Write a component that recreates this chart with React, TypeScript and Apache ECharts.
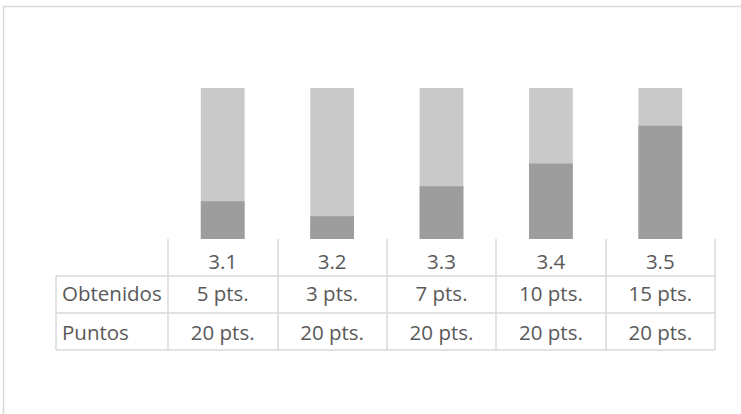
import React, { useEffect, useRef } from "react";
import * as echarts from "echarts";

// Categories and scores per section
const categories = ["3.1", "3.2", "3.3", "3.4", "3.5"];
const obtenidos = [5, 3, 7, 10, 15];
const puntos = [20, 20, 20, 20, 20];
const rowNames = ["Obtenidos", "Puntos"];

const FONT = "'Open Sans', sans-serif";
const FONT_SIZE = 20.5;
const TEXT = "#595959";
const BORDER = "#d9d9d9";

// Plot area and data-table geometry
const GRID = { left: 168, right: 26, top: 88, bottom: 175 };
const W = 741;
const H = 414;
const ROW_H = 37;
const TABLE_LEFT = 56;

const fmt = (v: number) => `${v} pts.`;

export default function App() {
  const ref = useRef<HTMLDivElement>(null);

  useEffect(() => {
    if (!ref.current) return;
    const chart = echarts.init(ref.current, undefined, { renderer: "svg" });

    const axisBase = H - GRID.bottom; // y of the category axis
    const gridRight = W - GRID.right;
    const rowTops = [axisBase + ROW_H, axisBase + 2 * ROW_H, axisBase + 3 * ROW_H];

    const labelStyle = {
      fontFamily: FONT,
      fontSize: FONT_SIZE,
      color: TEXT,
      verticalAlign: "middle" as const,
    };

    const tableAxis = (data: string[], offset: number) => ({
      type: "category" as const,
      data,
      position: "bottom" as const,
      offset,
      axisLine: { show: false },
      axisTick: { show: false },
      axisLabel: { ...labelStyle, margin: 21, interval: 0 },
      splitLine: { show: false },
    });

    chart.setOption({
      animation: false,
      grid: GRID,
      xAxis: [
        {
          type: "category",
          data: categories,
          position: "bottom",
          axisLine: { show: false },
          axisTick: {
            show: true,
            length: ROW_H * 3,
            lineStyle: { color: BORDER, width: 1.5 },
          },
          axisLabel: { ...labelStyle, margin: 22, interval: 0 },
          splitLine: { show: false },
        },
        tableAxis(obtenidos.map(fmt), 33),
        tableAxis(puntos.map(fmt), 71.5),
      ],
      yAxis: {
        type: "value",
        min: 0,
        max: 20,
        show: false,
        splitLine: { show: false },
      },
      series: [
        {
          name: "Puntos",
          type: "bar",
          data: puntos,
          barWidth: "40%",
          barGap: "-100%",
          itemStyle: { color: "#c9c9c9" },
          silent: true,
        },
        {
          name: "Obtenidos",
          type: "bar",
          data: obtenidos,
          barWidth: "40%",
          barGap: "-100%",
          itemStyle: { color: "#9d9d9d" },
          silent: true,
        },
      ],
      graphic: [
        // chart area frame
        {
          type: "rect",
          shape: { x: 3.5, y: 6.5, width: 900, height: 600 },
          style: { fill: "none", stroke: BORDER, lineWidth: 1.5 },
          silent: true,
        },
        // table horizontal rules
        ...rowTops.map((y) => ({
          type: "line",
          shape: { x1: TABLE_LEFT, y1: y, x2: gridRight, y2: y },
          style: { stroke: BORDER, lineWidth: 1.5 },
          silent: true,
        })),
        // table left edge
        {
          type: "line",
          shape: { x1: TABLE_LEFT, y1: rowTops[0], x2: TABLE_LEFT, y2: rowTops[2] },
          style: { stroke: BORDER, lineWidth: 1.5 },
          silent: true,
        },
        // row headers
        ...rowNames.map((name, i) => ({
          type: "text",
          x: 62,
          y: axisBase + 54 + i * 38.5,
          style: {
            text: name,
            fontFamily: FONT,
            fontSize: FONT_SIZE,
            fill: TEXT,
            verticalAlign: "middle",
            align: "left",
          },
          silent: true,
        })),
      ],
    });

    return () => chart.dispose();
  }, []);

  return (
    <div
      ref={ref}
      style={{ position: "absolute", left: 0, top: 0, width: W, height: H, background: "#fff" }}
    />
  );
}
